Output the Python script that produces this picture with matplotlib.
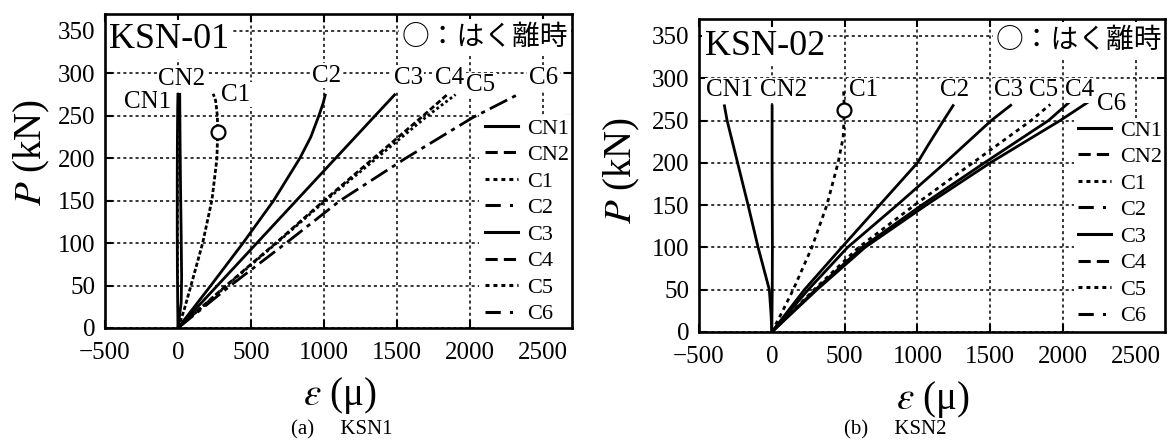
import matplotlib
matplotlib.use('Agg')
import matplotlib.pyplot as plt
from matplotlib.lines import Line2D
from matplotlib.patches import Rectangle

plt.rcParams['font.family'] = ['Liberation Serif', 'DejaVu Sans']
plt.rcParams['mathtext.fontset'] = 'stix'

# ---------------- data: KSN-01 ----------------
series_names = ['CN1', 'CN2', 'C1', 'C2', 'C3', 'C4', 'C5', 'C6']

k1_CN1_eps = [0, -2, -4, -5, -5, -4, -2, 0]
k1_CN1_P = [0, 30, 70, 120, 170, 220, 260, 277]
k1_CN2_eps = [0, 22, 25, 22, 18, 15, 13, 12]
k1_CN2_P = [0, 30, 60, 110, 160, 210, 250, 277]
k1_C1_eps = [0, 40, 94, 169, 233, 267, 272, 270, 258, 241]
k1_C1_P = [0, 20, 53, 100, 151, 200, 231, 250, 268, 276]
k1_C2_eps = [0, 225, 445, 655, 835, 910, 965, 995, 1011]
k1_C2_P = [0, 50, 100, 150, 200, 225, 250, 265, 276]
k1_C3_eps = [0, 270, 540, 810, 1080, 1350, 1491]
k1_C3_P = [0, 50, 100, 150, 200, 250, 276]
k1_C4_eps = [0, 330, 670, 1000, 1340, 1680, 1851]
k1_C4_P = [0, 50, 100, 150, 200, 250, 276]
k1_C5_eps = [0, 335, 675, 1010, 1360, 1710, 1902]
k1_C5_P = [0, 50, 100, 150, 200, 250, 275]
k1_C6_eps = [0, 360, 740, 1110, 1560, 2020, 2339]
k1_C6_P = [0, 50, 100, 150, 200, 248, 276]
k1_peel_eps = [272]
k1_peel_P = [231]
k1_label_x = [-206, 26, 395, 1016, 1577, 1863, 2075, 2505]
k1_label_y = [266, 293, 275, 297, 295, 295, 286, 295]

# ---------------- data: KSN-02 ----------------
k2_CN1_eps = [0, -5, -17, -94, -163, -235, -307, -327]
k2_CN1_P = [0, 20, 50, 100, 150, 200, 250, 269]
k2_CN2_eps = [0, 3, 4, 3, 2, 2]
k2_CN2_P = [0, 50, 100, 150, 200, 269]
k2_C1_eps = [0, 60, 147, 275, 378, 455, 490, 498, 495, 493]
k2_C1_P = [0, 20, 50, 100, 150, 200, 230, 262, 275, 286]
k2_C2_eps = [0, 224, 480, 740, 1000, 1070, 1190, 1250]
k2_C2_P = [0, 50, 100, 150, 200, 220, 253, 269]
k2_C3_eps = [0, 250, 520, 860, 1190, 1507, 1648]
k2_C3_P = [0, 50, 100, 150, 200, 250, 269]
k2_C4_eps = [0, 300, 620, 1030, 1460, 1900, 2045]
k2_C4_P = [0, 50, 100, 150, 200, 250, 272]
k2_C5_eps = [0, 290, 596, 980, 1380, 1780, 1912]
k2_C5_P = [0, 50, 100, 150, 200, 250, 269]
k2_C6_eps = [0, 310, 640, 1060, 1500, 1980, 2174]
k2_C6_P = [0, 50, 100, 150, 200, 250, 272]
k2_peel_eps = [498]
k2_peel_P = [262]
k2_label_x = [-289, 82, 627, 1256, 1627, 2114, 1866, 2333]
k2_label_y = [286, 286, 286, 286, 286, 286, 286, 270]

x_ticks = [-500, 0, 500, 1000, 1500, 2000, 2500]
y_ticks = [0, 50, 100, 150, 200, 250, 300, 350]

# ---------------- styles ----------------
SOLID = '-'
DASH = (0, (4, 2))
DOT = (0, (1.3, 1.3))
DASHDOT = (0, (5, 3, 1, 3))
legend_styles = [SOLID, DASH, DOT, DASHDOT, SOLID, DASH, DOT, DASHDOT]
k1_styles = [SOLID, SOLID, (0, (1.5, 0.8)), SOLID, SOLID, (0, (2, 1)), (0, (1, 1)), (0, (7, 2, 1.5, 2))]
k2_styles = [SOLID, SOLID, (0, (1.5, 1.5)), SOLID, SOLID, SOLID, (0, (1.5, 1.5)), SOLID]

W, H = 1168, 441
fig = plt.figure(figsize=(W / 100, H / 100), dpi=100)
ax1 = fig.add_axes([105 / W, 1 - 328 / H, 467 / W, 314 / H])
ax2 = fig.add_axes([699 / W, 1 - 332 / H, 466 / W, 313 / H])

jp = ['Noto Sans CJK JP', 'DejaVu Sans']


def draw(ax, curves, styles, peel_eps, peel_P, lab_x, lab_y, title, leg_box):
    for (e, p), ls in zip(curves, styles):
        ax.plot(e, p, color='black', lw=2.0, linestyle=ls, zorder=2,
                solid_capstyle='butt', dash_capstyle='butt')
    ax.plot(peel_eps, peel_P, 'o', ms=10, mfc='white', mec='black', mew=1.6, zorder=2.6)
    ax.set_xlim(-500, 2700)
    ax.set_ylim(0, 370)
    ax.set_xticks(x_ticks)
    ax.set_yticks(y_ticks)
    ax.grid(True, color='black', linestyle=(0, (2, 2)), linewidth=1.1)
    ax.set_axisbelow(True)
    ax.tick_params(direction='in', length=6, width=1.5, top=True, right=True,
                   labelsize=18)
    ax.tick_params(axis='x', pad=10)
    ax.tick_params(axis='y', pad=7)
    for s in ax.spines.values():
        s.set_linewidth(1.9)
        s.set_zorder(6)
    for name, x, y in zip(series_names, lab_x, lab_y):
        ax.text(x, y, name, ha='center', va='center', fontsize=18, zorder=3.5,
                bbox=dict(facecolor='white', edgecolor='none', pad=1))
    ax.text(title[1], title[2], title[0], transform=ax.transAxes, fontsize=26,
            ha='left', va='baseline', zorder=3.5,
            bbox=dict(facecolor='white', edgecolor='none', pad=2))
    ax.text(title[3], title[4], '○：はく離時', transform=ax.transAxes, fontsize=20,
            ha='right', va='center', family=jp, zorder=3.5,
            bbox=dict(facecolor='white', edgecolor='none', pad=2))
    ax.add_patch(Rectangle((leg_box[0], 0), 1 - leg_box[0], leg_box[1],
                           transform=ax.transAxes, facecolor='white',
                           edgecolor='none', zorder=3))
    handles = [Line2D([], [], color='black', lw=2.2, linestyle=ls) for ls in legend_styles]
    leg = ax.legend(handles, series_names, loc='upper left',
                    bbox_to_anchor=(leg_box[2], leg_box[3]), frameon=False,
                    fontsize=16, handlelength=1.5, handletextpad=0.4,
                    labelspacing=0.27, borderaxespad=0, borderpad=0)
    leg.set_zorder(5)


k1_curves = [(k1_CN1_eps, k1_CN1_P), (k1_CN2_eps, k1_CN2_P), (k1_C1_eps, k1_C1_P),
             (k1_C2_eps, k1_C2_P), (k1_C3_eps, k1_C3_P), (k1_C4_eps, k1_C4_P),
             (k1_C5_eps, k1_C5_P), (k1_C6_eps, k1_C6_P)]
k2_curves = [(k2_CN1_eps, k2_CN1_P), (k2_CN2_eps, k2_CN2_P), (k2_C1_eps, k2_C1_P),
             (k2_C2_eps, k2_C2_P), (k2_C3_eps, k2_C3_P), (k2_C4_eps, k2_C4_P),
             (k2_C5_eps, k2_C5_P), (k2_C6_eps, k2_C6_P)]

draw(ax1, k1_curves, k1_styles, k1_peel_eps, k1_peel_P, k1_label_x, k1_label_y,
     ('KSN-01', 0.008, 0.892, 0.991, 0.927),
     ((479 - 105) / 467, (328 - 115) / 314, (485 - 105) / 467, (328 - 118) / 314))
draw(ax2, k2_curves, k2_styles, k2_peel_eps, k2_peel_P, k2_label_x, k2_label_y,
     ('KSN-02', 0.013, 0.885, 0.994, 0.933),
     ((1074 - 699) / 466, (332 - 118) / 313, (1078 - 699) / 466, (332 - 120) / 313))

# axis labels and captions
fig.text(32 / W, 1 - 152 / H, '$P$ (kN)', rotation=90, ha='center', va='center', fontsize=28)
fig.text(622 / W, 1 - 170 / H, '$P$ (kN)', rotation=90, ha='center', va='center', fontsize=28)
fig.text(340 / W, 1 - 396 / H, r'$\varepsilon$ (μ)', ha='center', va='center', fontsize=28)
fig.text(933 / W, 1 - 399 / H, r'$\varepsilon$ (μ)', ha='center', va='center', fontsize=28)
fig.text(342 / W, 1 - 430 / H, '(a)     KSN1', ha='center', va='center', fontsize=15)
fig.text(895 / W, 1 - 430 / H, '(b)     KSN2', ha='center', va='center', fontsize=15)

fig.savefig('out.png', dpi=100)
